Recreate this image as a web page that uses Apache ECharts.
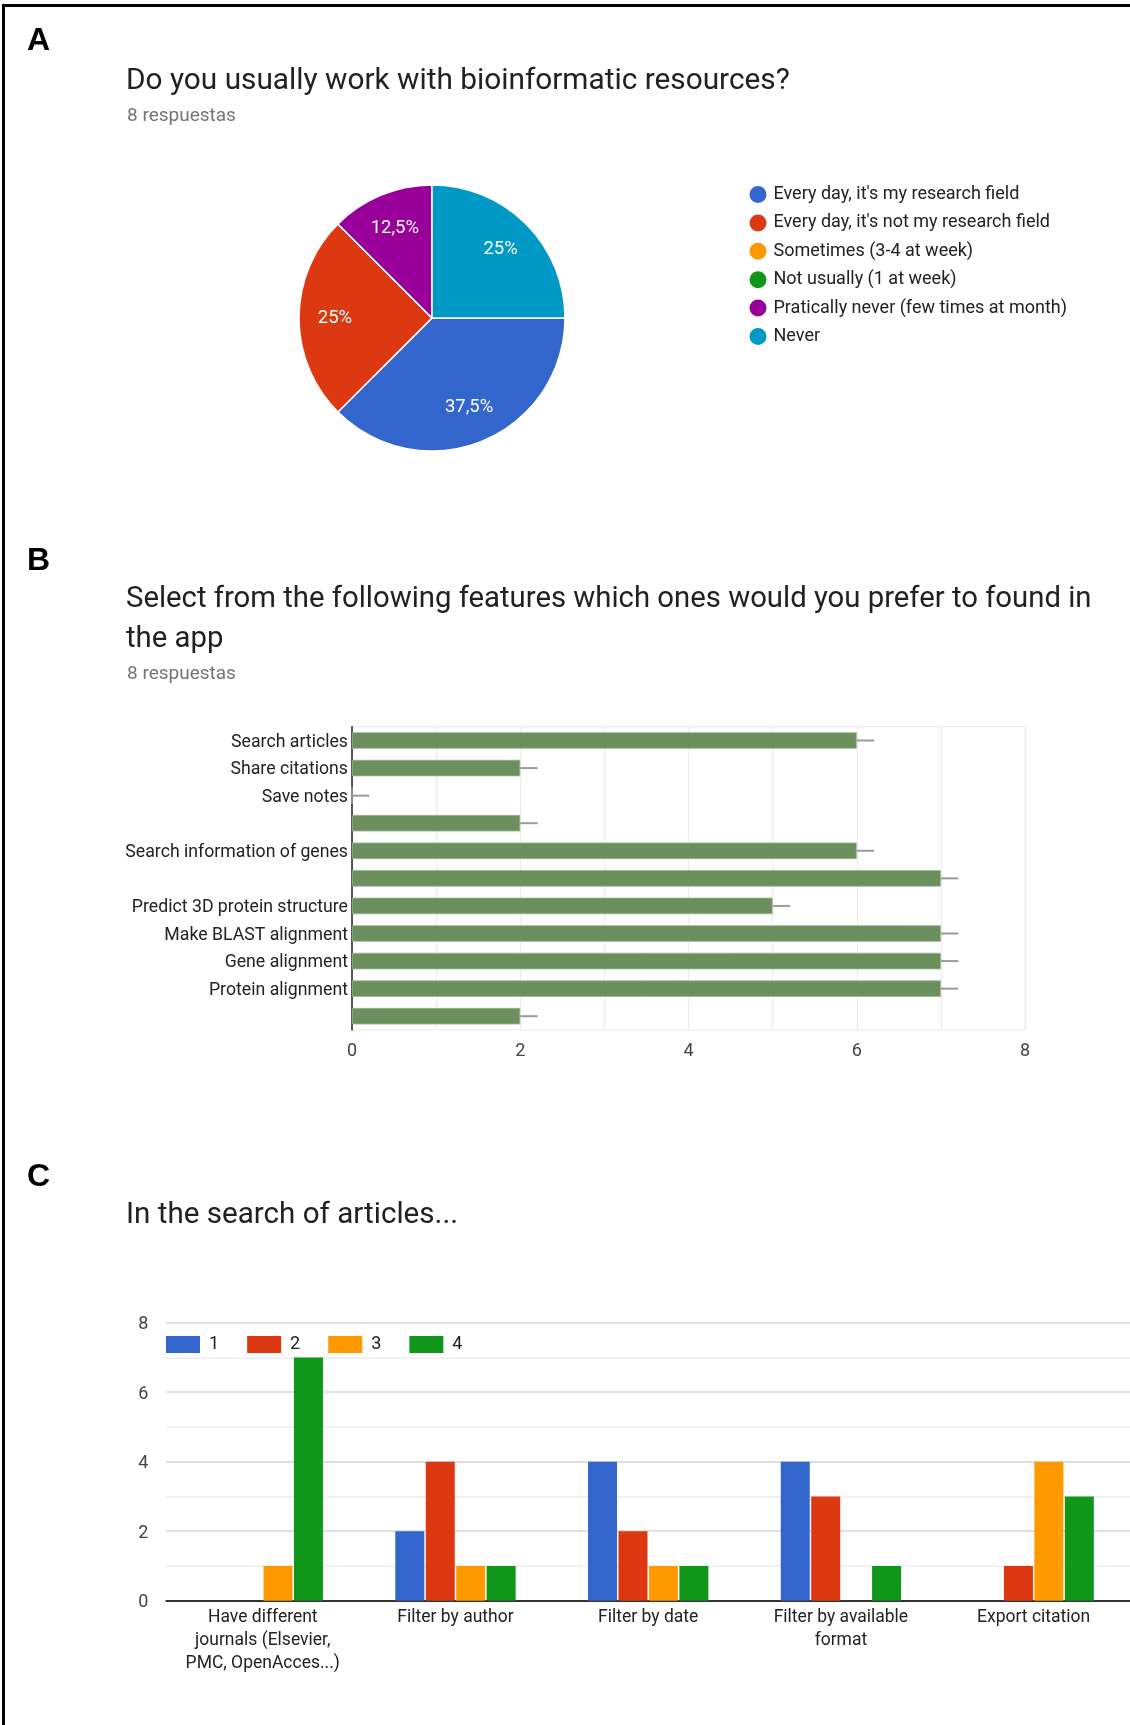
<!DOCTYPE html>
<html>
<head>
<meta charset="utf-8">
<title>Survey results</title>
<script src="https://cdn.jsdelivr.net/npm/echarts@6/dist/echarts.min.js"></script>
<style>
  html, body { margin: 0; padding: 0; background: #ffffff; }
  #page { position: relative; width: 1130px; height: 1725px; overflow: hidden; background: #ffffff; }
  #chart { position: absolute; left: 0; top: 0; width: 1130px; height: 1725px; }
  #frame { position: absolute; left: 2px; top: 4px; right: -10px; bottom: -10px;
           border-top: 3px solid #000; border-left: 3px solid #000; pointer-events: none; }
</style>
</head>
<body>
<div id="page">
  <div id="chart"></div>
  <div id="frame"></div>
</div>
<script>
// ---- Panel A: how often respondents work with bioinformatic resources ----
const usageCategories = [
  'Every day, it\'s my research field',
  'Every day, it\'s not my research field',
  'Sometimes (3-4 at week)',
  'Not usually (1 at week)',
  'Pratically never (few times at month)',
  'Never'
];
const usageCounts = [3, 2, 0, 0, 1, 2];
const usageColors = ['#3366cc', '#dc3912', '#ff9900', '#109618', '#990099', '#0099c6'];

// ---- Panel B: preferred app features ----
const featureCategories = [
  'Search articles',
  'Share citations',
  'Save notes',
  '',
  'Search information of genes',
  '',
  'Predict 3D protein structure',
  'Make BLAST alignment',
  'Gene alignment',
  'Protein alignment',
  ''
];
const featureCounts = [6, 2, 0, 2, 6, 7, 5, 7, 7, 7, 2];
const featureTicks = [0, 2, 4, 6, 8];

// ---- Panel C: article search options, ranked 1-4 ----
const searchCategories = [
  'Have different\njournals (Elsevier,\nPMC, OpenAcces...)',
  'Filter by author',
  'Filter by date',
  'Filter by available\nformat',
  'Export citation'
];
const rank1 = [0, 2, 4, 4, 0];
const rank2 = [0, 4, 2, 3, 1];
const rank3 = [1, 1, 1, 0, 4];
const rank4 = [7, 1, 1, 1, 3];
const rankNames = ['1', '2', '3', '4'];
const rankColors = ['#3366cc', '#dc3912', '#ff9900', '#109618'];
const countTicks = [0, 2, 4, 6, 8];

const FONT = 'Roboto';
const TEXT = '#222222';

const usageData = usageCategories.map((name, i) => ({
  name: name, value: usageCounts[i], itemStyle: { color: usageColors[i] }
}));

function pctLabel(p) {
  if (!p.value) return '';
  return String(p.percent).replace('.', ',') + '%';
}

function letter(text, top) {
  return {
    text: text, left: 27, top: top, padding: 0,
    textStyle: { fontFamily: 'Liberation Sans', fontWeight: 'bold', fontSize: 32, lineHeight: 32, color: '#000' }
  };
}
function heading(text, top, size) {
  return {
    text: text, left: 126, top: top, padding: 0,
    textStyle: { fontFamily: FONT, fontWeight: 'normal', fontSize: size, lineHeight: 39.5, color: '#202124' }
  };
}
function subheading(text, top) {
  return {
    text: text, left: 127, top: top, padding: 0,
    textStyle: { fontFamily: FONT, fontWeight: 'normal', fontSize: 19, lineHeight: 24, color: '#757575' }
  };
}

const chart = echarts.init(document.getElementById('chart'), null, { renderer: 'canvas' });

chart.setOption({
  animation: false,
  backgroundColor: '#ffffff',
  textStyle: { fontFamily: FONT },
  title: [
    letter('A', 25.5),
    heading('Do you usually work with bioinformatic resources?', 61.7, 29.8),
    subheading('8 respuestas', 104.7),
    letter('B', 545),
    heading('Select from the following features which ones would you prefer to found in\nthe app', 580, 29.3),
    subheading('8 respuestas', 662.2),
    letter('C', 1161),
    heading('In the search of articles...', 1196.2, 29.6)
  ],
  legend: [
    {
      data: usageCategories,
      orient: 'vertical',
      left: 747.5, top: 182.5,
      padding: 0,
      icon: 'circle',
      itemWidth: 19, itemHeight: 19,
      itemGap: 4.4,
      selectedMode: false,
      textStyle: { fontFamily: FONT, fontSize: 18, lineHeight: 20, color: TEXT, padding: [4, 0, 0, 1] }
    },
    {
      data: rankNames,
      orient: 'horizontal',
      left: 166, top: 1332.5,
      padding: 0,
      icon: 'rect',
      itemWidth: 34, itemHeight: 17,
      itemGap: 28,
      selectedMode: false,
      textStyle: { fontFamily: FONT, fontSize: 18, lineHeight: 20, color: TEXT, padding: [4, 0, 0, 4] }
    }
  ],
  grid: [
    { left: 352, top: 726.7, width: 673, height: 303.3, show: true, borderColor: '#ebebeb', borderWidth: 1, containLabel: false },
    { left: 166.4, top: 1322.7, right: 0, height: 278, containLabel: false }
  ],
  xAxis: [
    {
      gridIndex: 0, type: 'value', min: featureTicks[0], max: featureTicks[featureTicks.length - 1], interval: 2,
      axisLine: { show: false }, axisTick: { show: false },
      axisLabel: { fontFamily: FONT, fontSize: 18, color: '#444', margin: 12 },
      splitLine: { show: true, lineStyle: { color: '#ebebeb', width: 1.2 } },
      minorTick: { show: false, splitNumber: 2 },
      minorSplitLine: { show: true, lineStyle: { color: '#ebebeb', width: 1.2 } }
    },
    {
      gridIndex: 1, type: 'category', data: searchCategories,
      axisLine: { show: true, lineStyle: { color: '#333', width: 2 } },
      axisTick: { show: false },
      axisLabel: { fontFamily: FONT, fontSize: 17.5, lineHeight: 23, color: TEXT, margin: 5, interval: 0 }
    }
  ],
  yAxis: [
    {
      gridIndex: 0, type: 'category', data: featureCategories, inverse: true,
      axisLine: { show: true, lineStyle: { color: '#222', width: 1.5 } },
      axisTick: { show: false },
      axisLabel: { fontFamily: FONT, fontSize: 17.7, color: TEXT, margin: 4, interval: 0,
                   verticalAlign: 'top', lineHeight: 4 },
      splitLine: { show: false }
    },
    {
      gridIndex: 1, type: 'value', min: countTicks[0], max: countTicks[countTicks.length - 1], interval: 2,
      axisLine: { show: false }, axisTick: { show: false },
      axisLabel: { fontFamily: FONT, fontSize: 18, color: '#444', margin: 18,
                   verticalAlign: 'top', lineHeight: 4 },
      splitLine: { show: true, lineStyle: { color: '#d4d4d4', width: 1.5 } },
      minorTick: { show: false, splitNumber: 2 },
      minorSplitLine: { show: true, lineStyle: { color: '#ededed', width: 1.5 } }
    }
  ],
  series: [
    // Panel A pie (slices)
    {
      type: 'pie',
      center: [432, 318],
      radius: [0, 133],
      startAngle: 0,
      clockwise: true,
      silent: true,
      label: { show: false },
      labelLine: { show: false },
      itemStyle: { borderColor: '#ffffff', borderWidth: 1.5 },
      data: usageData
    },
    // Panel A pie (percentage labels placed on an outer ring)
    {
      type: 'pie',
      center: [432, 318],
      radius: [55, 133],
      startAngle: 0,
      clockwise: true,
      silent: true,
      itemStyle: { color: 'rgba(0,0,0,0)', borderWidth: 0 },
      label: {
        show: true, position: 'inside', formatter: pctLabel,
        fontFamily: FONT, fontSize: 18.5, color: '#ffffff', padding: [9, 0, 0, 0]
      },
      labelLine: { show: false },
      data: usageCategories.map((name, i) => ({ name: name, value: usageCounts[i] }))
    },
    // Panel B bars
    {
      type: 'bar',
      xAxisIndex: 0, yAxisIndex: 0,
      barWidth: 16.5,
      silent: true,
      itemStyle: { color: '#6b8f5d', borderColor: '#9cb592', borderWidth: 0.8 },
      data: featureCounts
    },
    // Panel B whisker marks at the end of each bar
    {
      type: 'custom',
      xAxisIndex: 0, yAxisIndex: 0,
      silent: true,
      renderItem: function (params, api) {
        const p = api.coord([api.value(0), api.value(1)]);
        return {
          type: 'line',
          shape: { x1: p[0], y1: p[1], x2: p[0] + 17.4, y2: p[1] },
          style: { stroke: '#9a9a9a', lineWidth: 2 }
        };
      },
      data: featureCounts.map((v, i) => [v, i]),
      z: 3
    },
    // Panel C grouped bars
    ...[rank1, rank2, rank3, rank4].map((vals, k) => ({
      name: rankNames[k],
      type: 'bar',
      xAxisIndex: 1, yAxisIndex: 1,
      barWidth: 29,
      barGap: '5%',
      silent: true,
      itemStyle: { color: rankColors[k] },
      data: vals
    }))
  ]
});
</script>
</body>
</html>
